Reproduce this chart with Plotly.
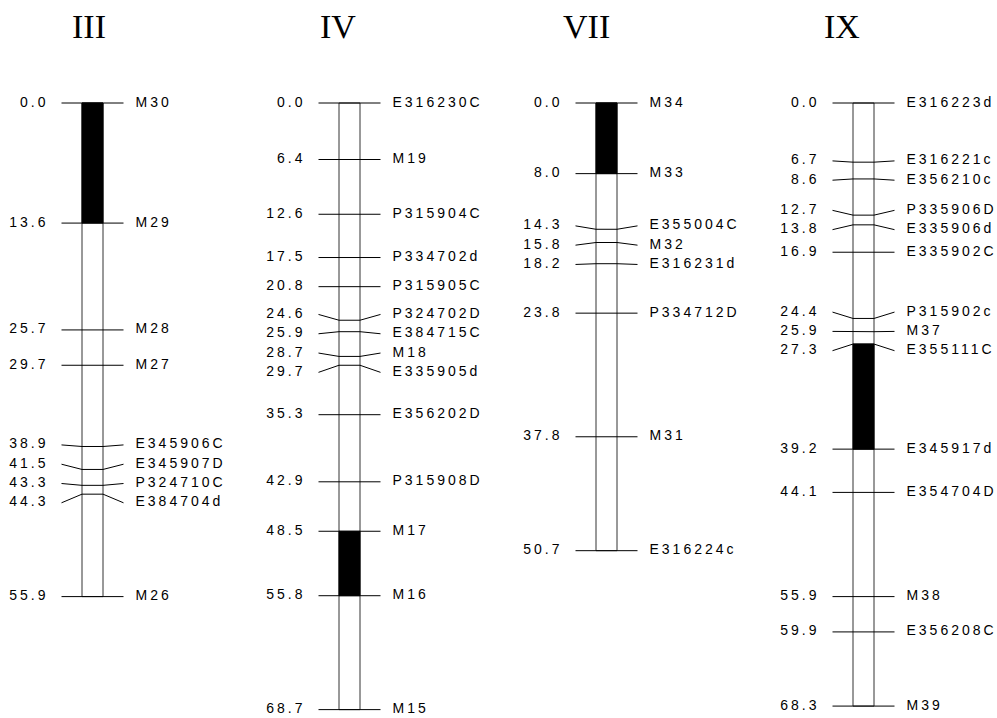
import plotly.graph_objects as go

# ---------------- data ----------------
chrom_names = ["III", "IV", "VII", "IX"]

III_pos = [0.0, 13.6, 25.7, 29.7, 38.9, 41.5, 43.3, 44.3, 55.9]
III_markers = ["M30", "M29", "M28", "M27", "E345906C", "E345907D", "P324710C", "E384704d", "M26"]

IV_pos = [0.0, 6.4, 12.6, 17.5, 20.8, 24.6, 25.9, 28.7, 29.7, 35.3, 42.9, 48.5, 55.8, 68.7]
IV_markers = ["E316230C", "M19", "P315904C", "P334702d", "P315905C", "P324702D", "E384715C",
              "M18", "E335905d", "E356202D", "P315908D", "M17", "M16", "M15"]

VII_pos = [0.0, 8.0, 14.3, 15.8, 18.2, 23.8, 37.8, 50.7]
VII_markers = ["M34", "M33", "E355004C", "M32", "E316231d", "P334712D", "M31", "E316224c"]

IX_pos = [0.0, 6.7, 8.6, 12.7, 13.8, 16.9, 24.4, 25.9, 27.3, 39.2, 44.1, 55.9, 59.9, 68.3]
IX_markers = ["E316223d", "E316221c", "E356210c", "P335906D", "E335906d", "E335902C", "P315902c",
              "M37", "E355111C", "E345917d", "E354704D", "M38", "E356208C", "M39"]

# black (filled) segments [start, end] in cM
III_black = [0.0, 13.6]
IV_black = [48.5, 55.8]
VII_black = [0.0, 8.0]
IX_black = [27.3, 39.2]

chrom_pos = [III_pos, IV_pos, VII_pos, IX_pos]
chrom_markers = [III_markers, IV_markers, VII_markers, IX_markers]
chrom_black = [III_black, IV_black, VII_black, IX_black]

# ---------------- layout constants ----------------
W, H = 997, 718
X0 = 92.5          # px centre of first chromosome
SPACING = 257.0    # px between chromosomes
TOP_PX = 103.0     # px of 0 cM
PX_PER_CM = 8.83
HALF_BAR = 10.5    # px
TICK = 31.0        # px
LEFT_TXT = 44.0
RIGHT_TXT = 43.0
MIN_GAP_PX = 19.3
TITLE_DX = [-3.5, -12, -20, -22]
TITLE_Y_PX = 26.5
FONT = "Liberation Sans, Arial, sans-serif"
FONT_SIZE = 14
LETTER_SPACING = "3px"


def px(v):
    return v / SPACING


def spread(pos, gap):
    """Place labels so that they are at least `gap` apart, clusters centred on their mean."""
    clusters = [[p] for p in pos]

    def layout(cl):
        m = sum(cl) / len(cl)
        n = len(cl)
        return [m + (k - (n - 1) / 2) * gap for k in range(n)]

    changed = True
    while changed:
        changed = False
        for i in range(len(clusters) - 1):
            a = layout(clusters[i])
            b = layout(clusters[i + 1])
            if b[0] - a[-1] < gap - 1e-9:
                clusters[i] = clusters[i] + clusters[i + 1]
                del clusters[i + 1]
                changed = True
                break
    out = []
    for cl in clusters:
        out += layout(cl)
    return out


gap_cm = MIN_GAP_PX / PX_PER_CM

fig = go.Figure()
shapes = []
annotations = []

for i, name in enumerate(chrom_names):
    pos = chrom_pos[i]
    mk = chrom_markers[i]
    lab = spread(pos, gap_cm)
    c = i
    # chromosome bar
    shapes.append(dict(type="rect", xref="x", yref="y", layer="below",
                       x0=c - px(HALF_BAR), x1=c + px(HALF_BAR), y0=min(pos), y1=max(pos),
                       line=dict(color="#333333", width=1), fillcolor="white"))
    b = chrom_black[i]
    shapes.append(dict(type="rect", xref="x", yref="y", layer="below",
                       x0=c - px(HALF_BAR), x1=c + px(HALF_BAR), y0=b[0], y1=b[1],
                       line=dict(color="black", width=1), fillcolor="black"))
    # tick lines with connectors
    xs, ys = [], []
    for p, l in zip(pos, lab):
        xs += [c - px(TICK), c - px(HALF_BAR), c + px(HALF_BAR), c + px(TICK), None]
        ys += [l, p, p, l, None]
    fig.add_trace(go.Scatter(x=xs, y=ys, mode="lines", line=dict(color="black", width=1),
                             hoverinfo="skip", showlegend=False))
    # left labels (positions)
    fig.add_trace(go.Scatter(x=[c - px(LEFT_TXT)] * len(pos), y=lab, mode="text",
                             text=[f"{p:.1f}" for p in pos], textposition="middle left",
                             textfont=dict(family=FONT, size=FONT_SIZE, color="black"),
                             hoverinfo="skip", showlegend=False))
    # right labels (markers)
    fig.add_trace(go.Scatter(x=[c + px(RIGHT_TXT)] * len(pos), y=lab, mode="text",
                             text=mk, textposition="middle right",
                             textfont=dict(family=FONT, size=FONT_SIZE, color="black"),
                             hoverinfo="skip", showlegend=False))
    annotations.append(dict(x=c + px(TITLE_DX[i]), y=1 - TITLE_Y_PX / H, xref="x", yref="paper",
                            text=name, showarrow=False, xanchor="center", yanchor="middle",
                            font=dict(family="Liberation Serif, Times New Roman, serif",
                                      size=34, color="black")))

x_lo = -X0 / SPACING
x_hi = (W - X0) / SPACING
y_top = -TOP_PX / PX_PER_CM
y_bot = (H - TOP_PX) / PX_PER_CM

fig.update_layout(
    width=W, height=H, margin=dict(l=0, r=0, t=0, b=0),
    paper_bgcolor="white", plot_bgcolor="white",
    xaxis=dict(range=[x_lo, x_hi], visible=False, fixedrange=True),
    yaxis=dict(range=[y_bot, y_top], visible=False, fixedrange=True),
    shapes=shapes, annotations=annotations, showlegend=False,
)

post = """
document.body.style.margin = '0';
document.body.style.padding = '0';
var gd = document.getElementById('{plot_id}');
function sp(){
  gd.querySelectorAll('g.textpoint text').forEach(function(t){ t.style.letterSpacing='%s'; });
}
sp();
gd.on('plotly_afterplot', sp);
""" % LETTER_SPACING

fig.write_html("out.html", config={"displayModeBar": False, "staticPlot": True}, post_script=post)
